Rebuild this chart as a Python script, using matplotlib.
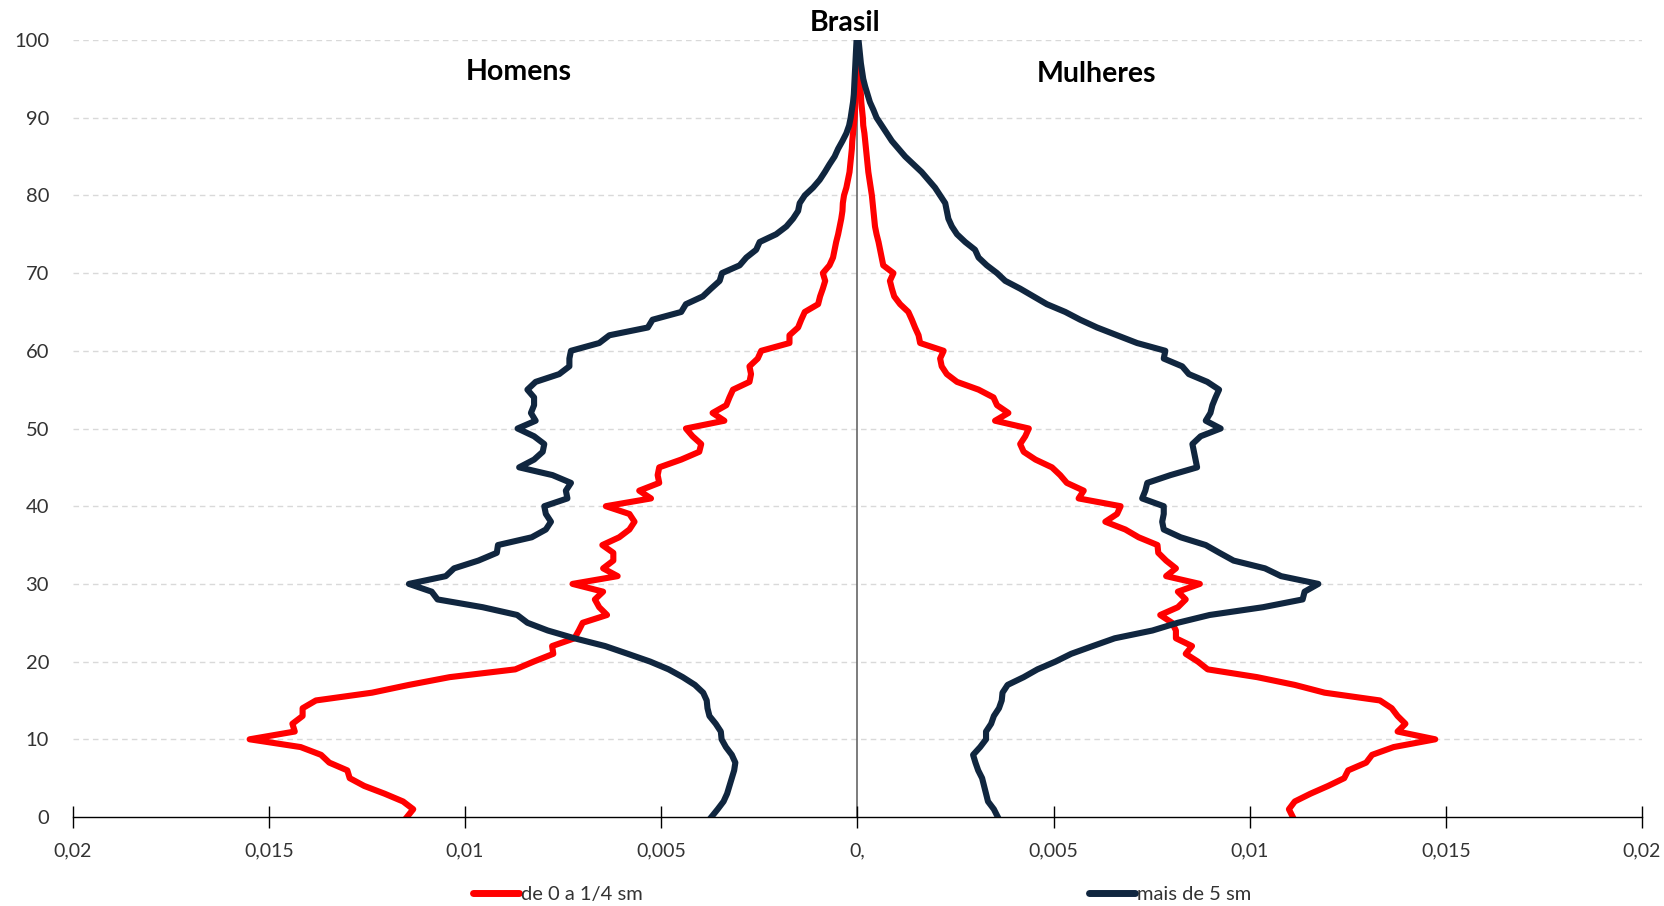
import matplotlib
matplotlib.use("Agg")
import matplotlib.pyplot as plt
from matplotlib.lines import Line2D
from matplotlib.ticker import FixedLocator, FixedFormatter

ages = list(range(0, 101))

men_low = [0.01148, 0.01132, 0.01158, 0.01205, 0.01257, 0.01294, 0.0130, 0.01346, 0.01367, 0.01419,
           0.01549, 0.01434, 0.01440, 0.01414, 0.01414, 0.0138, 0.01237, 0.01143, 0.01039, 0.00872,
           0.00825, 0.00775, 0.00778, 0.00721, 0.0071, 0.0070, 0.00638, 0.00658, 0.00669, 0.00648,
           0.00726, 0.00611, 0.00648, 0.00622, 0.00622, 0.0065, 0.00607, 0.00581, 0.00568, 0.00581,
           0.00641, 0.00526, 0.00556, 0.00505, 0.00509, 0.00505, 0.00449, 0.00403, 0.00398, 0.0042,
           0.00437, 0.00339, 0.00369, 0.00334, 0.00326, 0.00317, 0.00275, 0.00271, 0.00275, 0.00254,
           0.00245, 0.00173, 0.00173, 0.00151, 0.00143, 0.00134, 0.0010, 0.00095, 0.00088, 0.00082,
           0.00088, 0.00071, 0.00062, 0.00058, 0.00054, 0.00049, 0.00045, 0.00041, 0.00038, 0.00037,
           0.00034, 0.00028, 0.00024, 0.0002, 0.00018, 0.00016, 0.00014, 0.00013, 0.00011, 0.00009,
           0.00007, 0.00006, 0.00005, 0.00004, 0.00003, 0.00002, 0.00001, 0.0, 0.0, 0.0, 0.0]

men_high = [0.00372, 0.00356, 0.00341, 0.00332, 0.00326, 0.0032, 0.00314, 0.00311, 0.0032, 0.00335,
            0.00346, 0.00348, 0.00361, 0.00377, 0.00382, 0.00384, 0.00393, 0.00414, 0.00445, 0.00481,
            0.00528, 0.00585, 0.00643, 0.00721, 0.00789, 0.00841, 0.00867, 0.00955, 0.0107, 0.01085,
            0.01143, 0.01049, 0.01028, 0.00966, 0.00919, 0.00916, 0.0083, 0.00794, 0.00781, 0.00794,
            0.00798, 0.00739, 0.00743, 0.0073, 0.00777, 0.00862, 0.00824, 0.00802, 0.00798, 0.00824,
            0.00866, 0.0082, 0.00832, 0.00824, 0.00824, 0.00841, 0.0082, 0.0076, 0.00734, 0.00734,
            0.0073, 0.00658, 0.00632, 0.00534, 0.00522, 0.00449, 0.00437, 0.00394, 0.00373, 0.00351,
            0.00345, 0.0030, 0.00283, 0.00258, 0.00249, 0.00207, 0.00181, 0.00164, 0.00151, 0.00147,
            0.00134, 0.00113, 0.00096, 0.00083, 0.00071, 0.00058, 0.00049, 0.00038, 0.00028, 0.00021,
            0.00017, 0.00014, 0.00011, 0.00009, 0.00008, 0.00007, 0.00006, 0.00005, 0.00004, 0.00003, 0.00002]

women_low = [0.0111, 0.0110, 0.01115, 0.01155, 0.0120, 0.01241, 0.01251, 0.01297, 0.01312, 0.01367,
             0.01473, 0.01377, 0.01397, 0.01377, 0.01362, 0.01332, 0.01191, 0.01115, 0.01019, 0.00893,
             0.00868, 0.00837, 0.00853, 0.00812, 0.00812, 0.00802, 0.00772, 0.00817, 0.00837, 0.00817,
             0.00873, 0.00787, 0.00812, 0.00787, 0.00767, 0.00765, 0.00717, 0.00683, 0.00632, 0.00662,
             0.00671, 0.00564, 0.00577, 0.00534, 0.00517, 0.00496, 0.00454, 0.00424, 0.00415, 0.00428,
             0.00437, 0.00351, 0.00385, 0.00356, 0.00347, 0.00309, 0.00254, 0.00228, 0.00215, 0.00211,
             0.0022, 0.0016, 0.00156, 0.00147, 0.00139, 0.0013, 0.00109, 0.00094, 0.00088, 0.00083,
             0.00092, 0.00066, 0.00062, 0.00058, 0.00054, 0.00049, 0.00045, 0.00043, 0.00041, 0.00039,
             0.00037, 0.00034, 0.00031, 0.00028, 0.00026, 0.00024, 0.00022, 0.0002, 0.00018, 0.00015,
             0.00014, 0.00012, 0.0001, 0.00009, 0.00007, 0.00006, 0.00005, 0.00003, 0.0, 0.0, 0.0]

women_high = [0.00358, 0.00348, 0.00333, 0.00328, 0.00323, 0.00318, 0.00308, 0.00301, 0.00295, 0.00313,
              0.00328, 0.00328, 0.00341, 0.00348, 0.00361, 0.00368, 0.0037, 0.00383, 0.00424, 0.00459,
              0.00505, 0.00545, 0.0060, 0.00656, 0.00752, 0.00817, 0.00898, 0.01034, 0.01135, 0.0114,
              0.01175, 0.0108, 0.01039, 0.00959, 0.00923, 0.00888, 0.00824, 0.00781, 0.00777, 0.00781,
              0.00781, 0.00726, 0.00734, 0.00739, 0.00798, 0.00866, 0.00862, 0.00858, 0.00854, 0.00875,
              0.00926, 0.00888, 0.0090, 0.00905, 0.00913, 0.00922, 0.00892, 0.00845, 0.00828, 0.00781,
              0.00785, 0.00713, 0.00662, 0.00611, 0.00568, 0.0053, 0.00483, 0.00449, 0.00415, 0.00377,
              0.00356, 0.0033, 0.00309, 0.0030, 0.00275, 0.00254, 0.00241, 0.00232, 0.00228, 0.00224,
              0.00211, 0.00198, 0.00181, 0.00164, 0.00143, 0.00122, 0.00105, 0.00088, 0.00075, 0.00062,
              0.00049, 0.00041, 0.00032, 0.00026, 0.0002, 0.00015, 0.00012, 0.00009, 0.00007, 0.00005, 0.00003]

xticks = [-0.02, -0.015, -0.01, -0.005, 0.0, 0.005, 0.01, 0.015, 0.02]
xtick_labels = ["0,02", "0,015", "0,01", "0,005", "0,", "0,005", "0,01", "0,015", "0,02"]
yticks = [0, 10, 20, 30, 40, 50, 60, 70, 80, 90, 100]

series_labels = ["de 0 a 1/4 sm", "mais de 5 sm"]
RED = "#FF0000"
NAVY = "#10263F"

plt.rcParams['font.family'] = ['Lato', 'DejaVu Sans']

fig = plt.figure(figsize=(16.65, 9.06), dpi=100)
ax = fig.add_axes([72.7 / 1665, 89 / 906, (1642 - 72.7) / 1665, (817 - 40) / 906])

ax.set_xlim(-0.02, 0.02)
ax.set_ylim(0, 100)

for y in yticks[1:]:
    ax.axhline(y, color="#D9D9D9", lw=1.0, ls=(0, (4, 3)), zorder=0)

ax.axvline(0, color="#595959", lw=1.1, zorder=1)

ax.plot([-v for v in men_high], ages, color=NAVY, lw=4.4, solid_joinstyle='round', zorder=3)
ax.plot(women_high, ages, color=NAVY, lw=4.4, solid_joinstyle='round', zorder=3)
ax.plot([-v for v in men_low], ages, color=RED, lw=4.4, solid_joinstyle='round', zorder=2)
ax.plot(women_low, ages, color=RED, lw=4.4, solid_joinstyle='round', zorder=2)

for s in ["left", "right", "top"]:
    ax.spines[s].set_visible(False)
ax.spines["bottom"].set_color("#000000")
ax.spines["bottom"].set_linewidth(1.0)

ax.xaxis.set_major_locator(FixedLocator(xticks))
ax.xaxis.set_major_formatter(FixedFormatter(xtick_labels))
ax.set_yticks(yticks)
ax.tick_params(axis="x", direction="inout", length=16, width=1.0, color="#000000",
               labelsize=14, labelcolor="#333333", pad=10)
ax.tick_params(axis="y", length=0, labelsize=14.5, labelcolor="#333333", pad=17)

fig.text(845 / 1665, 1 - 23 / 906, "Brasil", ha="center", va="center",
         fontsize=20.5, fontweight="bold", color="#000000")
fig.text(519 / 1665, 1 - 72 / 906, "Homens", ha="center", va="center",
         fontsize=20.5, fontweight="bold", color="#000000")
fig.text(1097 / 1665, 1 - 74 / 906, "Mulheres", ha="center", va="center",
         fontsize=20.5, fontweight="bold", color="#000000")

leg_font = {"family": ["Liberation Sans Narrow", "Lato", "DejaVu Sans"], "size": 14.5}
h1 = Line2D([], [], color=RED, lw=5, solid_capstyle="round")
h2 = Line2D([], [], color=NAVY, lw=5, solid_capstyle="round")
l1 = fig.legend([h1], [series_labels[0]], loc="center left", bbox_to_anchor=(473 / 1665, 1 - 894 / 906),
                frameon=False, handlelength=2.3, handletextpad=0.1, borderpad=0, borderaxespad=0,
                prop=leg_font)
l2 = fig.legend([h2], [series_labels[1]], loc="center left", bbox_to_anchor=(1089 / 1665, 1 - 894 / 906),
                frameon=False, handlelength=2.3, handletextpad=0.1, borderpad=0, borderaxespad=0,
                prop=leg_font)
for lg in (l1, l2):
    for t in lg.get_texts():
        t.set_color("#333333")

fig.savefig("out.png", dpi=100)
